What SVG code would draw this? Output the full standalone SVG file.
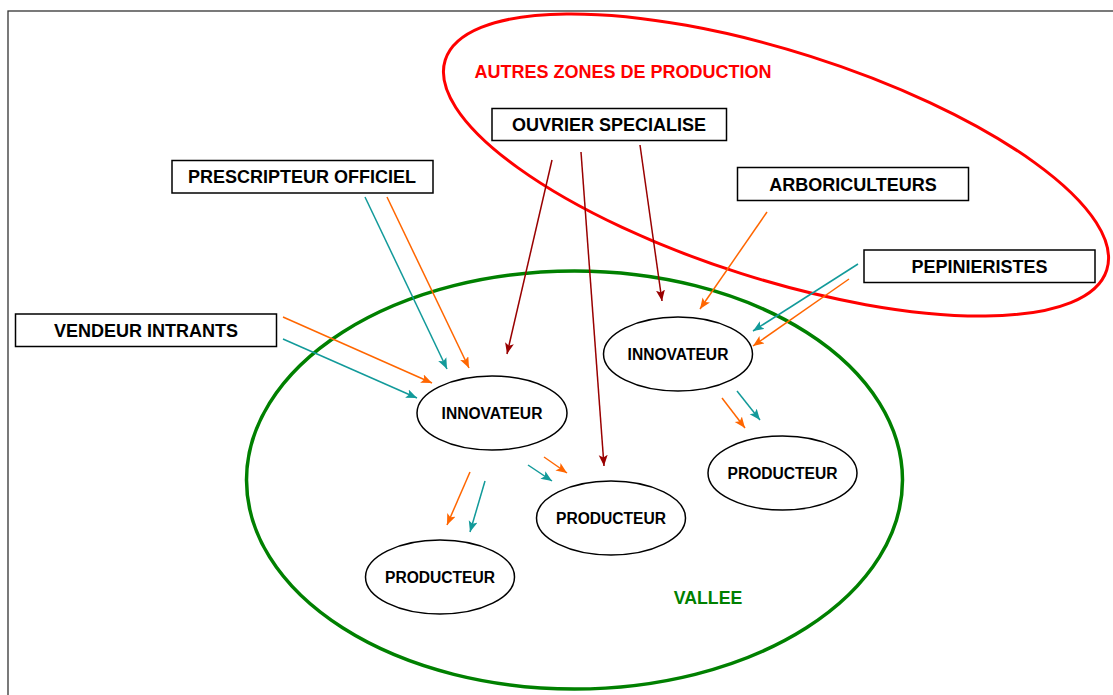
<svg xmlns="http://www.w3.org/2000/svg" width="1113" height="695" viewBox="0 0 1113 695">
  <style>
    .box { fill: #ffffff; stroke: #000000; stroke-width: 1.5; }
    .node { fill: #ffffff; stroke: #000000; stroke-width: 1.5; }
    .lbl { font-family: "Liberation Sans", Arial, sans-serif; font-weight: bold; font-size: 18px; fill: #000000; text-anchor: middle; }
    .nlbl { font-family: "Liberation Sans", Arial, sans-serif; font-weight: bold; font-size: 15.6px; fill: #000000; text-anchor: middle; }
    .or { stroke: #ff6600; stroke-width: 1.5; fill: none; marker-end: url(#ah-or); }
    .tl { stroke: #129a9a; stroke-width: 1.5; fill: none; marker-end: url(#ah-tl); }
    .dr { stroke: #990000; stroke-width: 1.5; fill: none; marker-end: url(#ah-dr); }
  </style>
  <defs>
    <marker id="ah-or" markerUnits="userSpaceOnUse" markerWidth="12" markerHeight="10" refX="11" refY="4.5" orient="auto">
      <path d="M0,0 L11,4.5 L0,9 L2.5,4.5 z" fill="#ff6600"/>
    </marker>
    <marker id="ah-tl" markerUnits="userSpaceOnUse" markerWidth="12" markerHeight="10" refX="11" refY="4.5" orient="auto">
      <path d="M0,0 L11,4.5 L0,9 L2.5,4.5 z" fill="#129a9a"/>
    </marker>
    <marker id="ah-dr" markerUnits="userSpaceOnUse" markerWidth="12" markerHeight="10" refX="11" refY="4.5" orient="auto">
      <path d="M0,0 L11,4.5 L0,9 L2.5,4.5 z" fill="#990000"/>
    </marker>
  </defs>

  <rect width="1113" height="695" fill="#ffffff"/>
  <!-- page frame -->
  <rect x="8" y="11" width="1200" height="800" fill="none" stroke="#333333" stroke-width="1.3"/>

  <!-- zones -->
  <g id="zone-vallee">
    <ellipse cx="574.5" cy="480" rx="328" ry="209" fill="none" stroke="#008000" stroke-width="3.5"/>
    <text x="708" y="604" class="lbl" style="fill:#008000;font-size:17.7px">VALLEE</text>
  </g>
  <g id="zone-autres">
    <ellipse cx="776" cy="165" rx="347" ry="114" transform="rotate(17.6 776 165)" fill="none" stroke="#ff0000" stroke-width="3"/>
    <text x="623" y="78" class="lbl" style="fill:#ff0000">AUTRES ZONES DE PRODUCTION</text>
  </g>

  <!-- connectors -->
  <g id="connectors">
    <!-- ouvrier specialise -->
    <line class="dr" x1="552" y1="160" x2="507" y2="354"/>
    <line class="dr" x1="581" y1="152" x2="604" y2="466"/>
    <line class="dr" x1="640" y1="145" x2="662" y2="301"/>
    <!-- prescripteur officiel -->
    <line class="tl" x1="365" y1="197" x2="447" y2="369"/>
    <line class="or" x1="387" y1="197" x2="469" y2="368"/>
    <!-- vendeur intrants -->
    <line class="or" x1="283" y1="317" x2="432" y2="383"/>
    <line class="tl" x1="283" y1="339" x2="417" y2="398"/>
    <!-- arboriculteurs -->
    <line class="or" x1="767" y1="212" x2="700" y2="309"/>
    <!-- pepinieristes -->
    <line class="tl" x1="858" y1="264" x2="753" y2="331"/>
    <line class="or" x1="849" y1="279" x2="753" y2="346"/>
    <!-- innovateur (droite) vers producteur -->
    <line class="or" x1="722" y1="398" x2="745" y2="428"/>
    <line class="tl" x1="737" y1="391" x2="760" y2="420"/>
    <!-- innovateur (gauche) vers producteurs -->
    <line class="tl" x1="528" y1="465" x2="552" y2="481"/>
    <line class="or" x1="544" y1="457" x2="567" y2="473"/>
    <line class="or" x1="470" y1="472" x2="447" y2="525"/>
    <line class="tl" x1="485" y1="481" x2="470" y2="532"/>
  </g>

  <!-- actors -->
  <g id="ouvrier-specialise">
    <rect class="box" x="492" y="108.5" width="234.5" height="32"/>
    <text class="lbl" x="609" y="131">OUVRIER SPECIALISE</text>
  </g>
  <g id="prescripteur-officiel">
    <rect class="box" x="172" y="160.5" width="261" height="32.5"/>
    <text class="lbl" x="302" y="183">PRESCRIPTEUR OFFICIEL</text>
  </g>
  <g id="arboriculteurs">
    <rect class="box" x="737.5" y="167.5" width="231" height="33"/>
    <text class="lbl" x="853" y="191">ARBORICULTEURS</text>
  </g>
  <g id="pepinieristes">
    <rect class="box" x="864" y="250" width="231" height="32.5"/>
    <text class="lbl" x="979.5" y="273">PEPINIERISTES</text>
  </g>
  <g id="vendeur-intrants">
    <rect class="box" x="15.5" y="314" width="261" height="32.5"/>
    <text class="lbl" x="146" y="336.5">VENDEUR INTRANTS</text>
  </g>

  <!-- farmers -->
  <g id="innovateur-1">
    <ellipse class="node" cx="492" cy="413" rx="75" ry="37"/>
    <text class="nlbl" x="492" y="419">INNOVATEUR</text>
  </g>
  <g id="innovateur-2">
    <ellipse class="node" cx="678" cy="354" rx="74.5" ry="37"/>
    <text class="nlbl" x="678" y="360">INNOVATEUR</text>
  </g>
  <g id="producteur-1">
    <ellipse class="node" cx="611" cy="518" rx="74.5" ry="37"/>
    <text class="nlbl" x="611" y="524">PRODUCTEUR</text>
  </g>
  <g id="producteur-2">
    <ellipse class="node" cx="440" cy="577" rx="74.5" ry="37"/>
    <text class="nlbl" x="440" y="583">PRODUCTEUR</text>
  </g>
  <g id="producteur-3">
    <ellipse class="node" cx="782.5" cy="473" rx="74.5" ry="37"/>
    <text class="nlbl" x="782.5" y="479">PRODUCTEUR</text>
  </g>
</svg>
